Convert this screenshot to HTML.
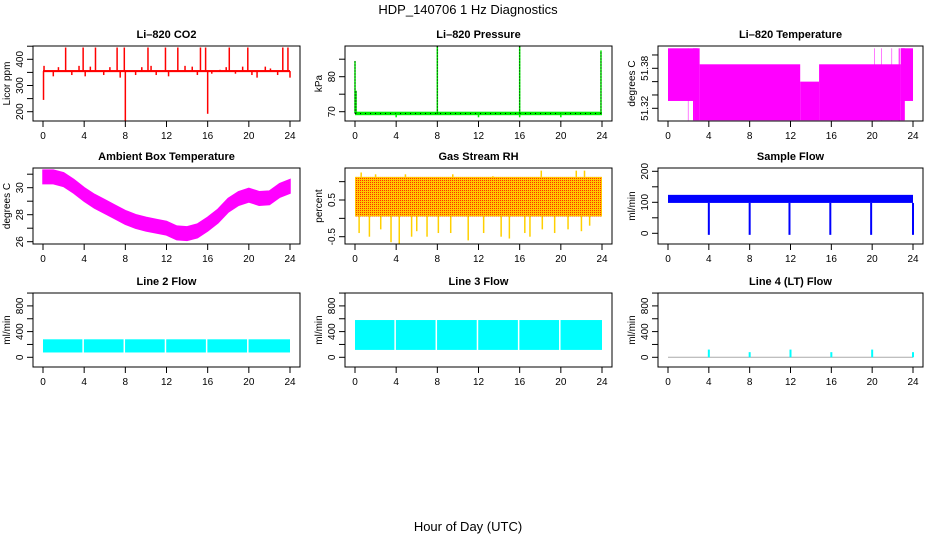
<!DOCTYPE html>
<html><head><meta charset="utf-8"><title>HDP_140706 1 Hz Diagnostics</title>
<style>
html,body{margin:0;padding:0;background:#fff;}
svg{display:block;font-family:"Liberation Sans",Arial,sans-serif;}
</style></head>
<body>
<svg id="chart" width="936" height="540" viewBox="0 0 936 540" xmlns="http://www.w3.org/2000/svg">
<defs>
<pattern id="rhpat" width="2" height="2" patternUnits="userSpaceOnUse">
<rect width="2" height="2" fill="#ffc800"/><rect width="1" height="1" fill="#ff3000"/>
</pattern>
</defs>
<text x="468" y="14" text-anchor="middle" font-size="13">HDP_140706  1 Hz Diagnostics</text>
<text x="468" y="531" text-anchor="middle" font-size="13">Hour of Day (UTC)</text>
</svg>
<script>
// ---------- data ----------
const hourTicks = [0,4,8,12,16,20,24];
// CO2
const co2Base = 355;
const co2SpikeHours = [2.2,3.9,5.1,7.2,7.9,10.2,11.9,13.1,15.3,15.8,18.1,19.9,23.3,23.8];
const co2SpikeVals  = [445,445,445,445,445,445,445,445,445,445,445,445,445,445];
const co2SmallHours = [0.1,1.0,1.5,2.8,3.5,4.1,4.6,5.9,6.5,7.5,9.0,9.6,10.5,11.0,12.2,13.8,14.5,15.0,16.4,17.2,17.8,18.7,19.4,20.3,20.8,21.6,22.1,22.8,24.0];
const co2SmallVals  = [375,335,370,340,375,335,372,340,370,330,340,370,375,340,335,375,372,340,345,360,370,345,372,340,330,372,365,340,330];
const co2DipHours = [0.05,8.0,16.0];
const co2DipVals  = [245,160,192];
// Pressure
const presBase = 69.5;
const presSpikeHours = [0.0,0.1,8.0,16.0,23.9];
const presSpikeVals  = [84.5,76,89,89,87.5];
const presDipHours = [4.0,12.0,16.0,20.0];
const presDipVals  = [68.4,68.4,68.4,68.4];
// Li-820 temperature segments
const tempSegStart = [0,   1.95,2.45,2.6, 3.1, 12.95,14.8, 20.2,20.9,21.9,22.6,22.8, 22.8];
const tempSegEnd   = [2.9, 2.0, 2.6, 3.1, 12.95,14.8,22.8, 20.25,20.95,21.95,22.7,24.0, 23.2];
const tempSegLo    = [51.331,51.302,51.302,51.302,51.302,51.302,51.302,51.302,51.302,51.302,51.302,51.331,51.302];
const tempSegHi    = [51.41,51.41,51.41,51.41,51.386,51.36,51.386,51.41,51.41,51.41,51.41,51.41,51.41];
// Ambient box temperature (hourly centre)
const ambHours = [0,1,2,3,4,5,6,7,8,9,10,11,12,13,14,15,16,17,18,19,20,21,22,23,24];
const ambVals  = [30.8,30.8,30.6,30.1,29.5,29.0,28.6,28.2,27.8,27.5,27.3,27.15,27.0,26.65,26.6,26.8,27.3,27.9,28.7,29.2,29.45,29.2,29.25,29.8,30.1];
const ambHalfWidth = 0.5;
// Gas stream RH
const rhLo = 0.05, rhHi = 1.13;
const rhDownHours = [0.4,1.4,2.5,3.5,4.3,5.5,6.0,7.0,8.1,9.3,11.0,12.5,14.2,15.0,16.5,17.0,18.2,19.4,20.7,22.0,22.8];
const rhDownVals  = [-0.4,-0.5,-0.3,-0.65,-0.7,-0.5,-0.35,-0.5,-0.4,-0.4,-0.6,-0.4,-0.5,-0.55,-0.4,-0.5,-0.3,-0.4,-0.3,-0.35,-0.2];
const rhUpHours = [0.6,2.0,4.9,9.5,13.4,18.1,21.5,22.3];
const rhUpVals  = [1.25,1.2,1.2,1.2,1.15,1.3,1.3,1.3];
// Sample flow
const sfLo = 98, sfHi = 124;
const sfDipHours = [4.0,8.0,11.9,15.9,19.9,24.0];
const sfDipVals  = [-5,-5,-5,-5,-5,-5];
// Line 2 / Line 3 flows
const l2Lo = 75, l2Hi = 280;
const l3Lo = 115, l3Hi = 580;
const flowGapHours = [3.9,7.9,11.9,15.9,19.9];
// Line 4 flow
const l4Base = 0;
const l4SpikeHours = [4,8,12,16,20,24];
const l4SpikeVals  = [120,80,120,80,120,80];

// ---------- layout ----------
const NS = "http://www.w3.org/2000/svg";
const svg = document.getElementById('chart');
const colX0 = [43,355,668], colX24 = [290,602,913];
const rows = [[46,121],[168,244],[293,367]];
function mk(tag, attrs, parent){
  const e = document.createElementNS(NS, tag);
  for (const k in attrs) e.setAttribute(k, attrs[k]);
  (parent||svg).appendChild(e); return e;
}
function panel(col,row,title,ylab,yTicks,yLabels,v0,y0,v1,y1,name){
  const g = mk('g',{});
  
  
  const x0 = colX0[col], x24 = colX24[col];
  const xs = h => x0 + (x24-x0)*h/24;
  const ys = v => y0 + (v-v0)*(y1-y0)/(v1-v0);
  const bl = x0-10, br = x24+10, bt = rows[row][0], bb = rows[row][1];
  const plot = mk('g',{}, g);
  
  
  const box = mk('rect',{x:bl,y:bt,width:br-bl,height:bb-bt,fill:'none',stroke:'#000','stroke-width':1}, g);
  
  
  const clip = mk('clipPath',{id:'clip'+name}, g);
  mk('rect',{x:bl,y:bt,width:br-bl,height:bb-bt}, clip);
  plot.setAttribute('clip-path','url(#clip'+name+')');
  const t = mk('text',{x:(bl+br)/2,y:bt-8,'text-anchor':'middle','font-size':11,'font-weight':'bold'}, g);
  t.textContent = title;
  
  
  const xa = mk('g',{}, g);
  
  
  mk('line',{x1:xs(0),x2:xs(24),y1:bb,y2:bb,stroke:'#000'}, xa);
  hourTicks.forEach(h=>{
    mk('line',{x1:xs(h),x2:xs(h),y1:bb,y2:bb+6,stroke:'#000'}, xa);
    const tl = mk('text',{x:xs(h),y:bb+18,'text-anchor':'middle','font-size':10}, xa);
    tl.textContent = h;
  });
  const ya = mk('g',{}, g);
  
  
  mk('line',{x1:bl,x2:bl,y1:ys(yTicks[0]),y2:ys(yTicks[yTicks.length-1]),stroke:'#000'}, ya);
  yTicks.forEach(v=>{ mk('line',{x1:bl-6,x2:bl,y1:ys(v),y2:ys(v),stroke:'#000'}, ya); });
  yLabels.forEach(v=>{
    const yy = ys(v), xx = bl-10;
    const tl = mk('text',{x:xx,y:yy,'text-anchor':'middle','font-size':10,transform:`rotate(-90 ${xx} ${yy})`}, ya);
    tl.textContent = v;
  });
  const yl = mk('text',{x:bl-23,y:(bt+bb)/2,'text-anchor':'middle','font-size':10,transform:`rotate(-90 ${bl-23} ${(bt+bb)/2})`}, g);
  yl.textContent = ylab;
  
  
  return {plot, xs, ys};
}
function vline(p,h,a,b,color,w){ return mk('line',{x1:p.xs(h),x2:p.xs(h),y1:p.ys(a),y2:p.ys(b),stroke:color,'stroke-width':w||1.5},p.plot); }
function band(p,h0,h1,lo,hi,fill){
  const y1=p.ys(hi), y2=p.ys(lo);
  return mk('rect',{x:p.xs(h0),y:Math.min(y1,y2),width:p.xs(h1)-p.xs(h0),height:Math.abs(y2-y1),fill:fill},p.plot);
}

{
  const p = panel(0,0,'Li\u2013820 CO2','Licor ppm',[200,250,300,350,400,450],[200,300,400],400,59.3,200,111.7,'co2');
  co2SmallHours.forEach((h,i)=>vline(p,h,co2Base,co2SmallVals[i],'#ff0000',1.5));
  co2SpikeHours.forEach((h,i)=>vline(p,h,co2Base,co2SpikeVals[i],'#ff0000',1.5));
  co2DipHours.forEach((h,i)=>vline(p,h,co2Base,co2DipVals[i],'#ff0000',1.5));
  band(p,0,24,co2Base-4,co2Base+4,'#ff0000');
}
{
  const p = panel(1,0,'Li\u2013820 Pressure','kPa',[70,75,80,85],[70,80],80,76.7,70,111.7,'pressure');
  band(p,0,24,presBase-0.5,presBase+0.5,'#00ee00');
  mk('line',{x1:p.xs(0),x2:p.xs(24),y1:p.ys(presBase),y2:p.ys(presBase),stroke:'#000','stroke-width':1,'stroke-dasharray':'1 4'},p.plot);
  presDipHours.forEach((h,i)=>vline(p,h,presBase,presDipVals[i],'#00ee00',1.5));
  presSpikeHours.forEach((h,i)=>{ vline(p,h,presBase,presSpikeVals[i],'#00ee00',1.5); mk('line',{x1:p.xs(h),x2:p.xs(h),y1:p.ys(presBase),y2:p.ys(presSpikeVals[i]),stroke:'#000','stroke-width':1,'stroke-dasharray':'1 2'},p.plot); });
}
{
  const p = panel(2,0,'Li\u2013820 Temperature','degrees C',[51.32,51.34,51.36,51.38,51.40],[51.32,51.38],51.32,108.3,51.38,68.3,'li820-temp');
  tempSegStart.forEach((s,i)=>band(p,s,tempSegEnd[i],tempSegLo[i],tempSegHi[i],'#ff00ff'));
}
{
  const p = panel(0,1,'Ambient Box Temperature','degrees C',[26,27,28,29,30,31],[26,28,30],26,241.7,30,187.7,'ambient-temp');
  const top = ambHours.map((h,i)=>p.xs(h)+','+p.ys(ambVals[i]+ambHalfWidth));
  const bot = ambHours.map((h,i)=>p.xs(h)+','+p.ys(ambVals[i]-ambHalfWidth)).reverse();
  mk('polygon',{points:top.concat(bot).join(' '),fill:'#ff00ff',stroke:'#ff00ff','stroke-width':1.5},p.plot);
}
{
  const p = panel(1,1,'Gas Stream RH','percent',[-0.5,0,0.5,1.0],[-0.5,0.5],0.5,200,-0.5,236.7,'gas-rh');
  rhDownHours.forEach((h,i)=>vline(p,h,rhLo,rhDownVals[i],'#ffd000',1.5));
  rhUpHours.forEach((h,i)=>vline(p,h,rhHi,rhUpVals[i],'#ffd000',1.5));
  band(p,0,24,rhLo,rhHi,'url(#rhpat)');
}
{
  const p = panel(2,1,'Sample Flow','ml/min',[0,50,100,150,200],[0,100,200],0,233.3,100,202.3,'sample-flow');
  band(p,0,24,sfLo,sfHi,'#0000ff');
  sfDipHours.forEach((h,i)=>vline(p,h,sfLo,sfDipVals[i],'#0000ff',2));
}
{
  const p = panel(0,2,'Line 2 Flow','ml/min',[0,200,400,600,800,1000],[0,400,800],0,357.3,400,331.6,'line2-flow');
  band(p,0,24,l2Lo,l2Hi,'#00ffff');
  flowGapHours.forEach(h=>vline(p,h,l2Lo-10,l2Hi+10,'#ffffff',1.5));
}
{
  const p = panel(1,2,'Line 3 Flow','ml/min',[0,200,400,600,800,1000],[0,400,800],0,357.3,400,331.6,'line3-flow');
  band(p,0,24,l3Lo,l3Hi,'#00ffff');
  flowGapHours.forEach(h=>vline(p,h,l3Lo-10,l3Hi+10,'#ffffff',1.5));
}
{
  const p = panel(2,2,'Line 4 (LT) Flow','ml/min',[0,200,400,600,800,1000],[0,400,800],0,357.3,400,331.6,'line4-flow');
  mk('line',{x1:p.xs(0),x2:p.xs(24),y1:p.ys(l4Base),y2:p.ys(l4Base),stroke:'#aaaaaa','stroke-width':1},p.plot);
  l4SpikeHours.forEach((h,i)=>vline(p,h,l4Base,l4SpikeVals[i],'#00ffff',2));
}
</script>
</body></html>
